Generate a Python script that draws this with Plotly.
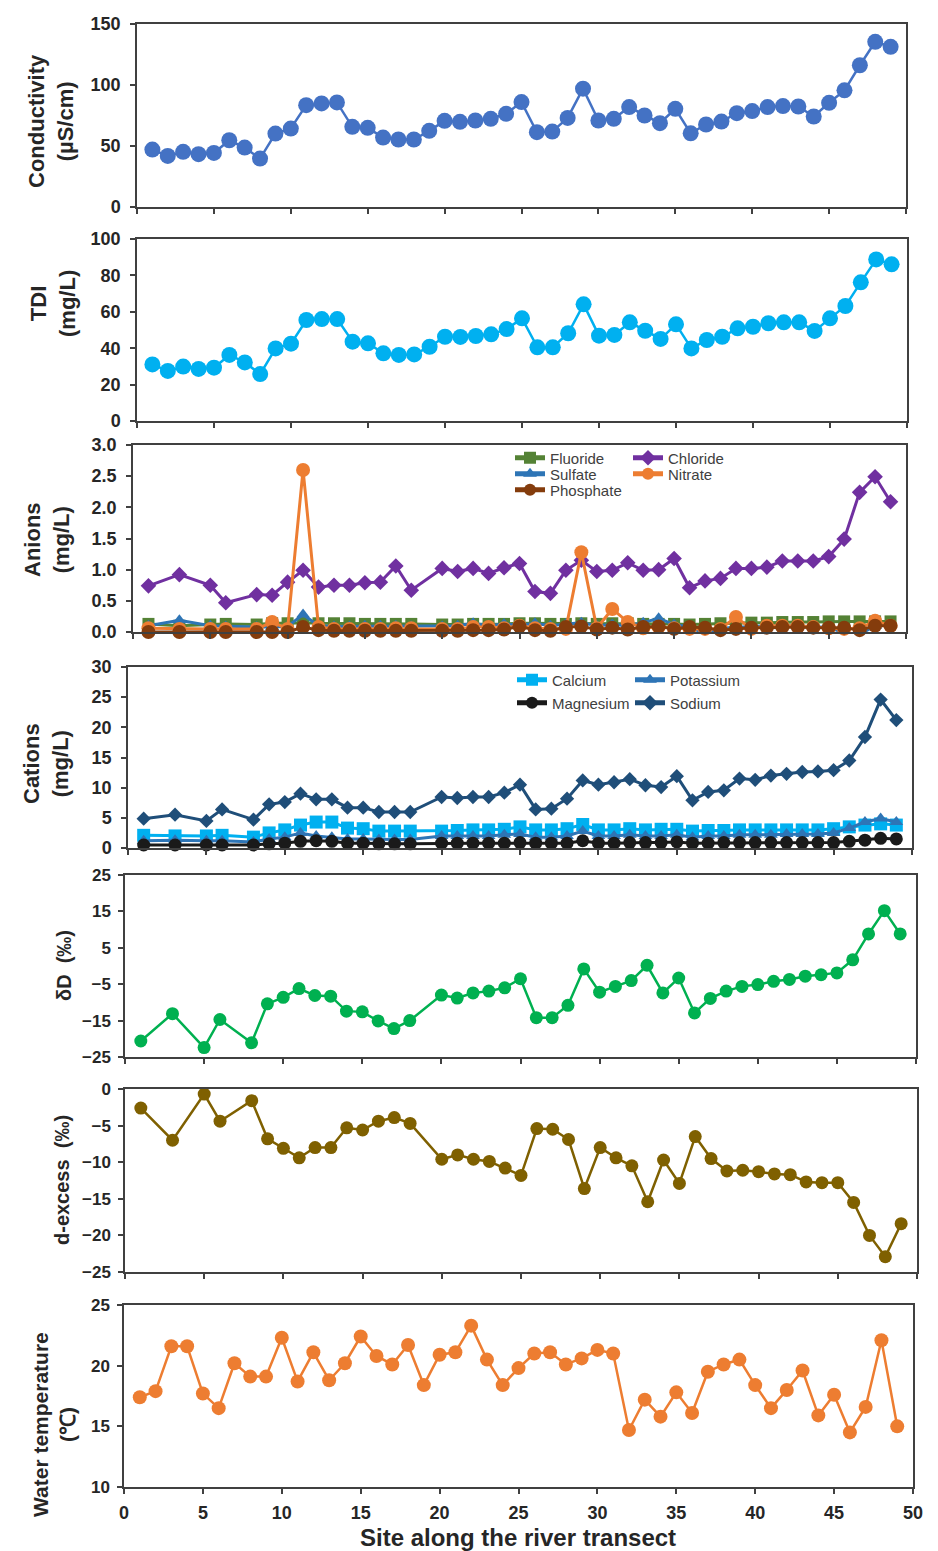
import plotly.graph_objects as go

W, H = 938, 1551
FONT = "Arial, Liberation Sans, sans-serif"

# ---------------- data ----------------
sites_all = list(range(1, 50))
sites_sub = [1, 3, 5, 6, 8] + list(range(9, 19)) + list(range(20, 50))

conductivity = [47.1, 41.9, 45.2, 43.3, 44.3, 54.7, 48.7, 39.7, 60.2, 64.3,
                83.5, 84.9, 85.7, 65.7, 64.9, 56.9, 55.3, 55.3, 62.4, 70.6,
                69.8, 70.9, 72.3, 76.4, 86.0, 61.3, 61.8, 73.0, 97.0, 70.9,
                72.3, 81.9, 75.0, 68.7, 80.5, 60.4, 67.6, 70.0, 76.9, 78.6,
                81.9, 82.7, 82.4, 74.2, 85.4, 95.6, 116.2, 135.4, 131.3]

tdi = [31.1, 27.5, 29.9, 28.6, 29.3, 36.3, 32.2, 25.8, 39.9, 42.5,
       55.5, 56.0, 56.0, 43.6, 42.7, 37.2, 36.3, 36.6, 40.8, 46.3,
       46.2, 46.7, 47.6, 50.5, 56.4, 40.5, 40.5, 48.2, 64.1, 46.9,
       47.3, 54.2, 49.6, 45.1, 53.1, 39.9, 44.5, 46.3, 50.9, 51.8,
       53.7, 54.2, 54.2, 49.5, 56.4, 63.2, 76.2, 88.8, 86.1]

fluoride = [0.13, 0.10, 0.12, 0.13, 0.12,
            0.14, 0.14, 0.15, 0.14, 0.14, 0.14, 0.13, 0.13, 0.13, 0.13,
            0.12, 0.12, 0.13, 0.13, 0.13, 0.14, 0.14, 0.13, 0.13, 0.14,
            0.13, 0.14, 0.14, 0.13, 0.13, 0.13, 0.12, 0.13, 0.14, 0.14,
            0.15, 0.15, 0.16, 0.16, 0.16, 0.17, 0.17, 0.17, 0.17, 0.17]
chloride = [0.74, 0.92, 0.75, 0.47, 0.60,
            0.59, 0.80, 0.99, 0.72, 0.75, 0.75, 0.79, 0.80, 1.06, 0.67,
            1.02, 0.97, 1.02, 0.94, 1.03, 1.10, 0.65, 0.62, 0.99, 1.15,
            0.97, 0.99, 1.11, 0.99, 1.00, 1.18, 0.71, 0.82, 0.86, 1.02,
            1.02, 1.04, 1.14, 1.14, 1.14, 1.21, 1.49, 2.24, 2.49, 2.09]
sulfate = [0.10, 0.19, 0.10, 0.09, 0.08,
           0.08, 0.09, 0.28, 0.10, 0.09, 0.09, 0.10, 0.10, 0.10, 0.09,
           0.09, 0.10, 0.14, 0.10, 0.13, 0.11, 0.14, 0.10, 0.13, 0.15,
           0.10, 0.12, 0.10, 0.15, 0.22, 0.12, 0.08, -0.03, 0.06, 0.08,
           0.09, 0.10, 0.10, 0.10, 0.08, 0.08, -0.02, -0.04, 0.10, 0.12]
nitrate = [0.06, 0.05, 0.05, 0.05, 0.05,
           0.16, 0.05, 2.60, 0.08, 0.05, 0.05, 0.05, 0.05, 0.06, 0.06,
           0.05, 0.05, 0.08, 0.08, 0.06, 0.10, 0.06, 0.05, 0.05, 1.28,
           0.06, 0.37, 0.16, 0.06, 0.08, 0.06, 0.05, 0.05, 0.05, 0.24,
           0.05, 0.10, 0.10, 0.10, 0.08, 0.06, 0.05, 0.06, 0.18, 0.10]
phosphate = [0.00, 0.00, 0.00, 0.00, 0.00,
             0.00, 0.00, 0.08, 0.03, 0.02, 0.02, 0.02, 0.02, 0.02, 0.02,
             0.02, 0.02, 0.03, 0.03, 0.04, 0.09, 0.03, 0.02, 0.08, 0.09,
             0.04, 0.07, 0.04, 0.08, 0.09, 0.05, 0.08, 0.07, 0.03, 0.05,
             0.07, 0.07, 0.08, 0.08, 0.07, 0.07, 0.07, 0.03, 0.10, 0.10]

calcium = [2.1, 2.0, 2.0, 2.1, 1.8,
           2.5, 3.0, 3.8, 4.3, 4.3, 3.3, 3.2, 2.8, 2.8, 2.8,
           2.8, 2.9, 3.0, 3.0, 3.1, 3.5, 3.0, 3.0, 3.2, 3.9,
           3.0, 3.0, 3.2, 3.0, 3.1, 3.1, 2.8, 2.9, 2.9, 3.0,
           3.0, 3.0, 3.0, 3.0, 3.0, 3.2, 3.5, 3.8, 4.0, 3.8]
potassium = [1.2, 1.3, 1.2, 1.2, 1.0,
             1.5, 1.8, 2.5, 2.0, 1.8, 1.5, 1.5, 1.4, 1.4, 1.4,
             2.0, 2.0, 2.0, 2.0, 2.2, 2.3, 1.8, 1.8, 2.0, 2.8,
             2.0, 2.0, 2.2, 2.0, 2.0, 2.2, 1.8, 2.0, 2.0, 2.2,
             2.2, 2.2, 2.3, 2.3, 2.3, 2.5, 3.3, 4.3, 4.9, 4.3]
magnesium = [0.5, 0.5, 0.5, 0.5, 0.5,
             0.7, 0.8, 1.1, 1.2, 1.1, 0.8, 0.8, 0.7, 0.7, 0.7,
             0.8, 0.8, 0.8, 0.8, 0.8, 0.9, 0.8, 0.8, 0.8, 1.2,
             0.8, 0.8, 0.9, 0.9, 0.9, 1.0, 0.8, 0.8, 0.9, 0.9,
             0.9, 0.9, 0.9, 0.9, 0.9, 0.9, 1.1, 1.3, 1.6, 1.5]
sodium = [4.86, 5.52, 4.48, 6.40, 4.70,
          7.24, 7.62, 9.00, 8.07, 8.07, 6.69, 6.69, 5.97, 5.97, 5.97,
          8.45, 8.29, 8.45, 8.45, 9.17, 10.5, 6.40, 6.52, 8.18, 11.2,
          10.5, 10.9, 11.4, 10.4, 10.1, 11.9, 7.90, 9.30, 9.56, 11.5,
          11.3, 12.0, 12.3, 12.6, 12.7, 12.9, 14.5, 18.4, 24.6, 21.2]

delta_d = [-20.6, -13.1, -22.4, -14.7, -21.1,
           -10.4, -8.6, -6.2, -8.1, -8.3, -12.4, -12.6, -15.1, -17.2, -15.0,
           -8.0, -8.8, -7.4, -6.9, -6.0, -3.5, -14.2, -14.2, -10.8, -0.8,
           -7.2, -5.6, -4.0, 0.2, -7.4, -3.3, -12.9, -8.9, -6.9, -5.6,
           -5.1, -4.2, -3.7, -2.8, -2.4, -1.9, 1.7, 8.8, 15.2, 8.8]

d_excess = [-2.6, -7.0, -0.7, -4.4, -1.6,
            -6.8, -8.1, -9.4, -8.0, -8.0, -5.3, -5.6, -4.4, -3.9, -4.7,
            -9.6, -9.0, -9.6, -9.9, -10.8, -11.8, -5.4, -5.5, -6.9, -13.6,
            -8.0, -9.4, -10.5, -15.4, -9.7, -12.9, -6.5, -9.5, -11.2, -11.1,
            -11.3, -11.6, -11.7, -12.7, -12.8, -12.8, -15.5, -20.0, -22.9, -18.4]

water_temp = [17.4, 17.9, 21.6, 21.6, 17.7, 16.5, 20.2, 19.1, 19.1, 22.3,
              18.7, 21.1, 18.8, 20.2, 22.4, 20.8, 20.1, 21.7, 18.4, 20.9,
              21.1, 23.3, 20.5, 18.4, 19.8, 21.0, 21.1, 20.1, 20.6, 21.3,
              21.0, 14.7, 17.2, 15.8, 17.8, 16.1, 19.5, 20.1, 20.5, 18.4,
              16.5, 18.0, 19.6, 15.9, 17.6, 14.5, 16.6, 22.1, 15.0]

x_ticks = [0, 5, 10, 15, 20, 25, 30, 35, 40, 45, 50]

# ---------------- layout geometry (pixels) ----------------
panels = {
    1: dict(x0=137, x1=906, top=24, bottom=207, yr=[0, 150], dt=50, t0=0, fmt=None, tf=18),
    2: dict(x0=137, x1=907, top=239, bottom=421, yr=[0, 100], dt=20, t0=0, fmt=None, tf=18),
    3: dict(x0=133, x1=906, top=445, bottom=632, yr=[0, 3], dt=0.5, t0=0, fmt=".1f", tf=18),
    4: dict(x0=128, x1=912, top=667, bottom=848, yr=[0, 30], dt=5, t0=0, fmt=None, tf=18),
    5: dict(x0=125, x1=916, top=875, bottom=1057, yr=[-25, 25], dt=10, t0=-25, fmt=None, tf=17),
    6: dict(x0=125, x1=917, top=1089, bottom=1272, yr=[-25, 0], dt=5, t0=-25, fmt=None, tf=17),
    7: dict(x0=124, x1=913, top=1305, bottom=1487, yr=[10, 25], dt=5, t0=10, fmt=None, tf=17),
}

AX = "#404040"
TXT = "#262626"


def sfx(i):
    return "" if i == 1 else str(i)


fig = go.Figure()


def add_line(i, x, y, color, symbol="circle", size=13, width=2.5, name=None, legend=None):
    fig.add_trace(go.Scatter(
        x=x, y=y, mode="lines+markers", name=name,
        xaxis="x" + sfx(i), yaxis="y" + sfx(i),
        line=dict(color=color, width=width),
        marker=dict(color=color, symbol=symbol, size=size),
        cliponaxis=False,
        showlegend=legend is not None,
        legend=legend if legend else "legend",
    ))


# Panel 1 - conductivity
add_line(1, sites_all, conductivity, "#4472C4", size=16, width=2.5)
# Panel 2 - TDI
add_line(2, sites_all, tdi, "#00B0F0", size=16, width=2.5)
# Panel 3 - anions
add_line(3, sites_sub, fluoride, "#548235", "square", 12, 3, "Fluoride", "legend")
add_line(3, sites_sub, sulfate, "#2E75B6", "triangle-up", 12, 3, "Sulfate", "legend3")
add_line(3, sites_sub, chloride, "#7030A0", "diamond", 12, 3, "Chloride", "legend2")
add_line(3, sites_sub, nitrate, "#ED7D31", "circle", 14, 3, "Nitrate", "legend4")
add_line(3, sites_sub, phosphate, "#843C0C", "circle", 14, 3, "Phosphate", "legend5")
# Panel 4 - cations
add_line(4, sites_sub, calcium, "#00B0F0", "square", 13, 3, "Calcium", "legend6")
add_line(4, sites_sub, potassium, "#2E75B6", "triangle-up", 12, 3, "Potassium", "legend7")
add_line(4, sites_sub, sodium, "#1F4E79", "diamond", 11, 3, "Sodium", "legend9")
add_line(4, sites_sub, magnesium, "#1A1A1A", "circle", 13, 3, "Magnesium", "legend8")
# Panel 5 - dD
add_line(5, sites_sub, delta_d, "#00B050", size=13, width=2.5)
# Panel 6 - d-excess
add_line(6, sites_sub, d_excess, "#7F6000", size=13, width=2.5)
# Panel 7 - water temperature
add_line(7, sites_all, water_temp, "#ED7D31", size=14, width=2.5)

layout = dict(
    width=W, height=H,
    margin=dict(l=0, r=0, t=0, b=0),
    paper_bgcolor="white", plot_bgcolor="white",
    font=dict(family=FONT, color=TXT),
)

for i, p in panels.items():
    last = i == 7
    layout["xaxis" + sfx(i)] = dict(
        domain=[p["x0"] / W, p["x1"] / W], anchor="y" + sfx(i),
        range=[0, 50], tickmode="array", tickvals=x_ticks,
        ticks="outside", ticklen=5, tickwidth=1.5, tickcolor=AX,
        showline=True, linecolor=AX, linewidth=1.5, mirror=True,
        showgrid=False, zeroline=False, automargin=False,
        showticklabels=last, ticklabelstandoff=4,
        tickfont=dict(family=FONT, size=18, color=TXT, weight="bold"),
        fixedrange=True,
    )
    ya = dict(
        domain=[1 - p["bottom"] / H, 1 - p["top"] / H], anchor="x" + sfx(i),
        range=p["yr"], tick0=p["t0"], dtick=p["dt"],
        ticks="outside", ticklen=5, tickwidth=1.5, tickcolor=AX,
        showline=True, linecolor=AX, linewidth=1.5, mirror=True,
        showgrid=False, zeroline=False, automargin=False,
        ticklabelstandoff=6 if i <= 4 else 4,
        tickfont=dict(family=FONT, size=p["tf"], color=TXT, weight="bold"),
        fixedrange=True,
    )
    if p["fmt"]:
        ya["tickformat"] = p["fmt"]
    layout["yaxis" + sfx(i)] = ya

# legends: (key, symbol start x px, center y px)
legend_pos = {
    "legend": (515, 458), "legend2": (633, 458),
    "legend3": (515, 474), "legend4": (633, 474), "legend5": (515, 490),
    "legend6": (517, 680), "legend7": (635, 680),
    "legend8": (517, 703), "legend9": (635, 703),
}
for key, (lx, ly) in legend_pos.items():
    layout[key] = dict(
        x=(lx - 5) / W, y=1 - ly / H, xref="paper", yref="paper",
        xanchor="left", yanchor="middle",
        bgcolor="rgba(0,0,0,0)", borderwidth=0,
        font=dict(family=FONT, size=15, color="#404040"),
        itemsizing="constant", itemwidth=30,
    )

fig.update_layout(**layout)

# axis titles
titles = [
    ("Conductivity<br>(µS/cm)", 51, 121, 22),
    ("TDI<br>(mg/L)", 53, 304, 22),
    ("Anions<br>(mg/L)", 47, 540, 22),
    ("Cations<br>(mg/L)", 46, 764, 22),
    ("δD  (‰)", 64, 966, 20),
    ("d-excess  (‰)", 62, 1180, 20),
    ("Water temperature<br>(℃)", 54, 1425, 21),
]
for txt, cx, cy, fs in titles:
    fig.add_annotation(
        text=txt, x=cx / W, y=1 - cy / H, xref="paper", yref="paper",
        textangle=-90, showarrow=False, xanchor="center", yanchor="middle",
        font=dict(family=FONT, size=fs, color=TXT, weight="bold"),
    )
fig.add_annotation(
    text="Site along the river transect", x=518 / W, y=1 - 1537 / H,
    xref="paper", yref="paper", showarrow=False,
    xanchor="center", yanchor="middle",
    font=dict(family=FONT, size=24, color=TXT, weight="bold"),
)

fig.write_html("out.html")
